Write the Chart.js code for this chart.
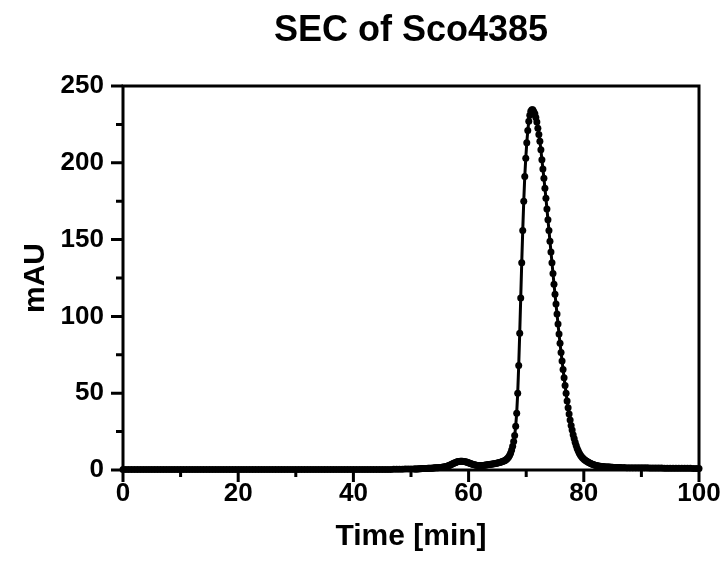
<!DOCTYPE html>
<html>
<head>
<meta charset="utf-8">
<title>SEC of Sco4385</title>
<script src="https://cdn.jsdelivr.net/npm/chart.js@4/dist/chart.umd.min.js"></script>
<style>
  body { margin: 0; background: #fff; }
  canvas { display: block; }
</style>
</head>
<body>
<canvas id="secChart" width="725" height="571"></canvas>
<script>
// chromatogram runs, each recorded at its own fixed interval (min)
const preStart = 0, preStep = 0.5;
const preValues = [
  0.3, 0.3, 0.3, 0.3, 0.3, 0.3, 0.3, 0.3, 0.3, 0.3, 0.3, 0.3, 0.3, 0.3, 0.3, 0.3, 0.3, 0.3, 0.3, 0.3, 0.3,
  0.3, 0.3, 0.3, 0.3, 0.3, 0.3, 0.3, 0.3, 0.3, 0.3, 0.3, 0.3, 0.3, 0.3, 0.3, 0.3, 0.3, 0.3, 0.3, 0.3,
  0.3, 0.3, 0.3, 0.3, 0.3, 0.3, 0.3, 0.3, 0.3, 0.3, 0.3, 0.3, 0.3, 0.3, 0.3, 0.3, 0.3, 0.3, 0.3, 0.3,
  0.3, 0.3, 0.3, 0.3, 0.3, 0.3, 0.3, 0.3, 0.3, 0.3, 0.3, 0.3, 0.3, 0.3, 0.3, 0.3, 0.3, 0.3, 0.3, 0.3,
  0.3, 0.3, 0.3, 0.3, 0.3, 0.3, 0.3, 0.3, 0.4, 0.4, 0.4, 0.4, 0.4, 0.5, 0.5, 0.5, 0.5, 0.6, 0.6, 0.6
];

const peakStart = 50.5, peakStep = 0.175;
const peakValues = [
  0.6, 0.6, 0.7, 0.7, 0.7, 0.8, 0.8, 0.8, 0.9, 0.9,
  0.9, 1.0, 1.0, 1.0, 1.1, 1.1, 1.2, 1.2, 1.2, 1.3,
  1.3, 1.4, 1.4, 1.5, 1.5, 1.6, 1.6, 1.7, 1.8, 1.9,
  2.0, 2.1, 2.3, 2.5, 2.7, 3.0, 3.3, 3.6, 3.9, 4.2,
  4.5, 4.8, 5.1, 5.3, 5.5, 5.6, 5.7, 5.7, 5.7, 5.6,
  5.5, 5.4, 5.2, 5.0, 4.8, 4.5, 4.3, 4.0, 3.8, 3.6,
  3.4, 3.2, 3.1, 3.0, 2.9, 2.9, 2.9, 2.9, 3.0, 3.0,
  3.1, 3.2, 3.3, 3.4, 3.5, 3.6, 3.7, 3.8, 3.9, 4.0,
  4.1, 4.2, 4.4, 4.5, 4.7, 4.9, 5.1, 5.3, 5.5, 5.8,
  6.1, 6.5, 7.0, 7.7, 8.5, 9.6, 11, 13, 15.5, 18.5,
  22.5, 28.5, 37, 50, 68, 89, 112, 135, 156, 175,
  191, 203, 213, 221, 227, 231, 233.5, 234.5, 234.5, 233.3,
  232, 229.5, 226.5, 222.5, 218.5, 214, 208.5, 202, 196, 190,
  183.5, 177, 170, 163, 156, 149, 142, 135, 128, 121,
  114.5, 108, 101.5, 95, 88.5, 82.5, 76.5, 71, 65.5, 60,
  55, 50, 45, 40.5, 36.5, 32.5, 29, 26, 23, 20.5,
  18, 16, 14, 12.5, 11, 10, 9, 8.2, 7.5, 6.9,
  6.4, 5.9, 5.5, 5.1, 4.7, 4.4, 4.1, 3.8, 3.5, 3.3,
  3.1, 2.9, 2.7, 2.6, 2.5, 2.4, 2.3, 2.2, 2.1, 2.1,
  2.0, 2.0, 1.9, 1.9, 1.9, 1.8, 1.8, 1.8, 1.7, 1.7,
  1.7, 1.7, 1.6, 1.6, 1.6
];

const tailStart = 86.5, tailStep = 0.5;
const tailValues = [
  1.6, 1.6, 1.5, 1.5, 1.5, 1.5, 1.4, 1.4, 1.4, 1.4,
  1.3, 1.3, 1.3, 1.3, 1.3, 1.2, 1.2, 1.2, 1.2, 1.2,
  1.1, 1.1, 1.1, 1.1, 1.1, 1.0, 1.0, 1.0
];

// axis ticks
const xMajor = [0, 20, 40, 60, 80, 100];
const xMinor = [10, 30, 50, 70, 90];
const yMajor = [0, 50, 100, 150, 200, 250];
const yMinor = [25, 75, 125, 175, 225];

function toPoints(start, step, values) {
  return values.map((v, i) => ({ x: +(start + i * step).toFixed(3), y: v }));
}

const points = [
  ...toPoints(preStart, preStep, preValues),
  ...toPoints(peakStart, peakStep, peakValues),
  ...toPoints(tailStart, tailStep, tailValues)
];

const FONT = '"Liberation Sans", Arial, sans-serif';

// box around the plot, outward tick marks and the centred title
const framePlugin = {
  id: 'frame',
  afterDraw(chart) {
    const { ctx, chartArea: a, scales: { x, y } } = chart;
    ctx.save();
    ctx.strokeStyle = '#000';
    ctx.lineWidth = 3;
    ctx.strokeRect(a.left, a.top, a.right - a.left, a.bottom - a.top);

    ctx.beginPath();
    xMajor.forEach(v => { const px = x.getPixelForValue(v); ctx.moveTo(px, a.bottom); ctx.lineTo(px, a.bottom + 12); });
    xMinor.forEach(v => { const px = x.getPixelForValue(v); ctx.moveTo(px, a.bottom); ctx.lineTo(px, a.bottom + 7); });
    yMajor.forEach(v => { const py = y.getPixelForValue(v); ctx.moveTo(a.left, py); ctx.lineTo(a.left - 12, py); });
    yMinor.forEach(v => { const py = y.getPixelForValue(v); ctx.moveTo(a.left, py); ctx.lineTo(a.left - 7, py); });
    ctx.stroke();

    ctx.fillStyle = '#000';
    ctx.font = 'bold 36px ' + FONT;
    ctx.textAlign = 'center';
    ctx.textBaseline = 'middle';
    ctx.fillText('SEC of Sco4385', (a.left + a.right) / 2, 31);
    ctx.restore();
  }
};

new Chart(document.getElementById('secChart'), {
  type: 'line',
  data: {
    datasets: [{
      data: points,
      borderColor: '#000',
      backgroundColor: '#000',
      borderWidth: 3,
      pointRadius: 3.5,
      pointBorderWidth: 0,
      pointBackgroundColor: '#000',
      tension: 0,
      clip: 6
    }]
  },
  options: {
    responsive: false,
    animation: false,
    layout: { padding: { top: 86, right: 26, left: 0, bottom: 0 } },
    plugins: { legend: { display: false }, tooltip: { enabled: false } },
    scales: {
      x: {
        type: 'linear',
        min: 0,
        max: 100,
        afterFit: s => { s.height = 101; s.paddingLeft = 0; s.paddingRight = 0; },
        afterBuildTicks: s => { s.ticks = xMajor.map(v => ({ value: v })); },
        grid: { display: false, drawTicks: false },
        border: { display: false },
        ticks: { color: '#000', padding: 8, maxRotation: 0, font: { family: FONT, size: 26, weight: 'bold' } },
        title: { display: true, text: 'Time [min]', color: '#000', padding: { top: 0, bottom: 16 },
                 font: { family: FONT, size: 30, weight: 'bold' } }
      },
      y: {
        min: 0,
        max: 250,
        afterFit: s => { s.width = 123; },
        afterBuildTicks: s => { s.ticks = yMajor.map(v => ({ value: v })); },
        grid: { display: false, drawTicks: false },
        border: { display: false },
        ticks: { color: '#000', padding: 19, font: { family: FONT, size: 26, weight: 'bold' } },
        title: { display: true, text: 'mAU', color: '#000', padding: { top: 18, bottom: 0 },
                 font: { family: FONT, size: 30, weight: 'bold' } }
      }
    }
  },
  plugins: [framePlugin]
});
</script>
</body>
</html>
